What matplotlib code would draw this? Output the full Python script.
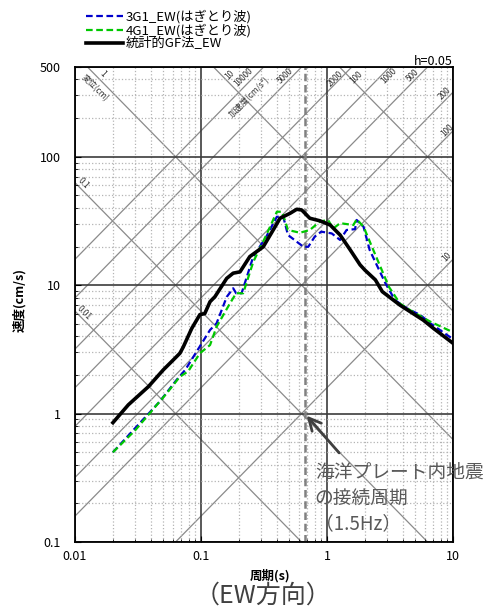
import numpy as np
import matplotlib
matplotlib.use("Agg")
import matplotlib.pyplot as plt
from matplotlib.ticker import LogLocator, NullFormatter

plt.rcParams['font.family'] = ['Noto Sans CJK JP', 'DejaVu Sans']

# --- data (period s, velocity cm/s) ---
period_gf = [0.02, 0.0265, 0.0382, 0.0502, 0.0622, 0.068, 0.0723, 0.0844, 0.098, 0.107, 0.118,
             0.129, 0.16, 0.18, 0.204, 0.244, 0.312, 0.374, 0.424, 0.51, 0.575, 0.63, 0.73,
             0.88, 1.06, 1.27, 1.53, 1.83, 2.0, 2.42, 2.75, 3.79, 5.8, 7.0, 10.0]
vel_gf = [0.85, 1.17, 1.62, 2.19, 2.7, 2.95, 3.3, 4.6, 5.9, 6.0, 7.44,
          8.13, 11.3, 12.4, 12.7, 16.7, 19.9, 26.9, 33.2, 36.3, 39.0, 38.5, 33.2,
          31.7, 29.4, 24.6, 18.8, 14.4, 13.1, 11.0, 8.9, 7.0, 5.35, 4.61, 3.53]

period_3g1 = [0.02, 0.030, 0.047, 0.064, 0.075, 0.118, 0.133, 0.16, 0.18, 0.19, 0.21, 0.26,
              0.33, 0.40, 0.45, 0.49, 0.575, 0.65, 0.71, 0.80, 0.90, 1.09, 1.27, 1.43, 1.67,
              1.72, 1.95, 2.18, 2.9, 3.46, 4.3, 5.5, 6.6, 10.0]
vel_3g1 = [0.5, 0.77, 1.24, 1.83, 2.19, 4.48, 5.05, 8.1, 9.46, 8.65, 8.65, 16.7,
           23.9, 34.1, 34.0, 24.6, 21.8, 19.9, 19.9, 23.9, 26.1, 25.3, 22.5, 26.9, 27.3,
           32.2, 28.5, 18.8, 10.4, 7.66, 6.6, 5.86, 5.05, 3.8]

period_4g1 = [0.02, 0.030, 0.0535, 0.068, 0.079, 0.098, 0.118, 0.133, 0.17, 0.19, 0.216, 0.26,
              0.33, 0.40, 0.44, 0.49, 0.61, 0.73, 0.88, 1.02, 1.12, 1.27, 1.62, 1.72, 1.95,
              2.33, 3.1, 3.79, 4.8, 6.6, 10.0]
vel_4g1 = [0.5, 0.74, 1.44, 1.94, 2.13, 2.95, 3.42, 4.75, 7.23, 8.65, 8.65, 15.2,
           24.6, 37.3, 37.3, 26.9, 25.6, 26.9, 31.3, 32.2, 27.6, 30.4, 29.4, 32.6, 28.5,
           18.8, 9.7, 7.2, 6.2, 5.2, 4.3]

disp_levels = [0.01, 0.1, 1, 10, 100]                               # cm
acc_levels = [10, 100, 200, 500, 1000, 2000, 5000, 10000]           # cm/s2
connect_freq = 1.5                                                   # Hz

y_ticks = [0.1, 1, 10, 100, 500]
x_ticks = [0.01, 0.1, 1, 10]

fig = plt.figure(figsize=(4.87, 6.09), dpi=100)
ax = fig.add_axes([75 / 487, 1 - 542 / 609, 378 / 487, 475 / 609])
ax.set_xscale('log')
ax.set_yscale('log')
ax.set_xlim(0.01, 10)
ax.set_ylim(0.1, 500)

# grid
ax.set_xticks(x_ticks)
ax.set_xticklabels(['0.01', '0.1', '1', '10'])
ax.set_yticks(y_ticks)
ax.set_yticklabels(['0.1', '1', '10', '100', '500'])
ax.xaxis.set_minor_locator(LogLocator(subs=np.arange(2, 10)))
ax.yaxis.set_minor_locator(LogLocator(subs=np.arange(2, 10)))
ax.xaxis.set_minor_formatter(NullFormatter())
ax.yaxis.set_minor_formatter(NullFormatter())
ax.grid(which='minor', color='#b4b4b4', ls=':', lw=0.9)
ax.grid(which='major', color='#3c3c3c', ls='-', lw=1.2)
ax.tick_params(which='both', direction='in', labelsize=9)
ax.tick_params(axis='y', pad=10)
ax.tick_params(axis='x', pad=6)
ax.tick_params(which='major', length=4)
ax.tick_params(which='minor', length=2.5)
for s in ax.spines.values():
    s.set_linewidth(1.3)

# tripartite diagonals
T = np.array([0.005, 20.0])
for d in disp_levels:
    ax.plot(T, 2 * np.pi * d / T, color='#8a8a8a', lw=0.9, zorder=1.5)
for a in acc_levels:
    ax.plot(T, a * T / (2 * np.pi), color='#8a8a8a', lw=0.9, zorder=1.5)

# diagonal labels (pixel positions in the figure)
diag_labels = [('1', 103, 74, -45), ('変位(cm)', 95, 88, -45), ('0.1', 83, 183, -45),
               ('0.01', 84, 313, -45), ('10', 230, 75, 45), ('10000', 243, 77, 45),
               ('加速度(cm/s²)', 249, 97, 45), ('5000', 285, 76, 45), ('2000', 335, 79, 45),
               ('100', 356, 77, 45), ('1000', 389, 76, 45), ('500', 413, 75, 45),
               ('200', 445, 93, 45), ('100', 447, 130, 45), ('10', 447, 257, 45)]
for txt, px, py, rot in diag_labels:
    ax.text((px - 75) / 378, (542 - py) / 475, txt, transform=ax.transAxes, fontsize=6,
            color='#333333', rotation=rot, ha='center', va='center', zorder=2)

# connection period
ax.axvline(1 / connect_freq, color='#808080', lw=1.8, ls=(0, (3, 1.5)), zorder=2)

# spectra
ax.plot(period_3g1, vel_3g1, color='#0000cc', lw=1.6, ls=(0, (3, 1.6)), zorder=3,
        label='3G1_EW(はぎとり波)')
ax.plot(period_4g1, vel_4g1, color='#00c800', lw=1.6, ls=(0, (3, 1.6)), zorder=3.1,
        label='4G1_EW(はぎとり波)')
ax.plot(period_gf, vel_gf, color='black', lw=2.6, zorder=3.2, label='統計的GF法_EW')

ax.annotate('', xy=(1 / connect_freq, 1.0), xytext=(1.29, 0.476),
            arrowprops=dict(arrowstyle='->', lw=2, color='#404040', mutation_scale=22))
ax.text(0.80, 0.42, '海洋プレート内地震\nの接続周期\n（1.5Hz）', fontsize=13.5, color='#595959',
        va='top', ha='left', linespacing=1.3, clip_on=False, zorder=4)

ax.text(1.0, 1.004, 'h=0.05', transform=ax.transAxes, ha='right', va='baseline', fontsize=9)

fig.legend(loc='upper left', bbox_to_anchor=(86 / 487, 1 - 10 / 609), frameon=False,
           fontsize=9.5, handlelength=2.8, handletextpad=0.2, labelspacing=0.0, borderpad=0,
           borderaxespad=0)

fig.text(270 / 487, 1 - 576 / 609, '周期(s)', fontsize=9, fontweight='bold', ha='center', va='center')
fig.text(20 / 487, 1 - 300 / 609, '速度(cm/s)', fontsize=9, fontweight='bold', rotation=90,
         ha='center', va='center')
fig.text(263 / 487, 1 - 596 / 609, '（EW方向）', fontsize=18, color='#404040', ha='center', va='center')

fig.savefig('out.png', dpi=100)
